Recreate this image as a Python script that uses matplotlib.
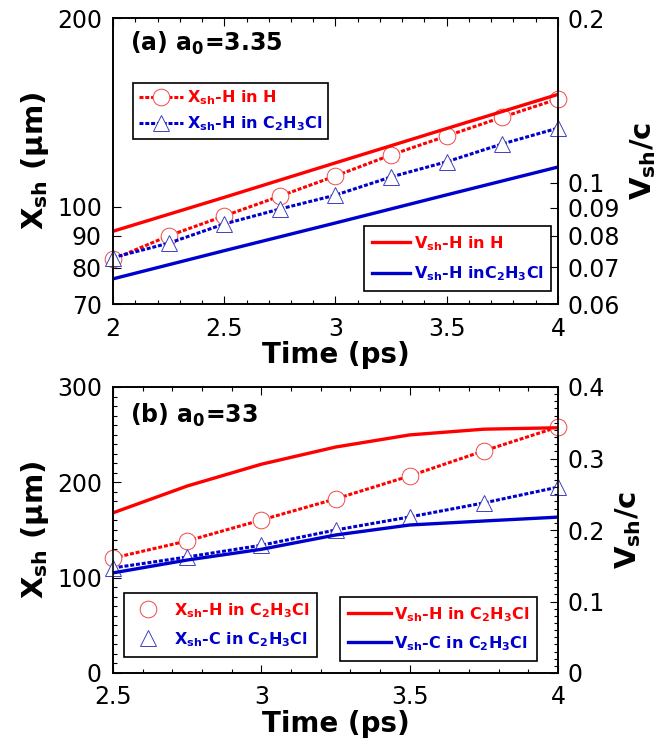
import matplotlib.pyplot as plt
from matplotlib.lines import Line2D
from matplotlib.ticker import FixedLocator, MultipleLocator, NullLocator, FixedFormatter

plt.rcParams['font.family'] = ['DejaVu Sans']
plt.rcParams['mathtext.fontset'] = 'custom'
plt.rcParams['mathtext.rm'] = 'DejaVu Sans:bold'
plt.rcParams['mathtext.bf'] = 'DejaVu Sans:bold'
plt.rcParams['mathtext.default'] = 'bf'

RED = '#ff0000'
BLUE = '#0000cc'

# panel (a), a0 = 3.35
t_a = [2.0, 2.25, 2.5, 2.75, 3.0, 3.25, 3.5, 3.75, 4.0]
xsh_h_in_h = [82.5, 89.9, 96.7, 104.0, 112.0, 121.0, 129.7, 139.0, 148.6]
xsh_h_in_c2h3cl_a = [83.0, 87.5, 93.9, 99.2, 104.4, 111.6, 118.0, 126.0, 133.5]
tv_a = [2.0, 2.5, 3.0, 3.5, 4.0]
vsh_h_in_h = [0.0815, 0.094, 0.1087, 0.1256, 0.145]
vsh_h_in_c2h3cl_a = [0.0667, 0.0751, 0.0844, 0.0950, 0.1068]

# panel (b), a0 = 33
t_b = [2.5, 2.75, 3.0, 3.25, 3.5, 3.75, 4.0]
xsh_h_in_c2h3cl_b = [120.6, 138.5, 160.5, 182.6, 206.7, 233.0, 258.0]
xsh_c_in_c2h3cl_b = [110.2, 121.7, 134.0, 150.0, 163.7, 178.4, 195.0]
vsh_h_in_c2h3cl_b = [0.224, 0.2615, 0.292, 0.316, 0.333, 0.341, 0.343]
vsh_c_in_c2h3cl_b = [0.140, 0.158, 0.173, 0.193, 0.207, 0.2126, 0.218]

TICK_FS = 17
XLABEL_FS = 20
YLABEL_FS = 21
LEG_FS = 11.5
MS = 12
DASH = (1.3, 0.6)
LW_DOT = 2.2
LW_SOLID = 2.4
MEC_RED = '#f04848'
MEC_BLUE = '#4040c0'

W, H = 663, 746


def style_axis(ax):
    ax.tick_params(which='both', direction='in', labelsize=TICK_FS, width=0.8)
    ax.tick_params(which='major', length=6)
    ax.tick_params(which='minor', length=3)
    for s in ax.spines.values():
        s.set_linewidth(1.2)


def make_legend(ax, handles, labels, x, y, **kw):
    leg = ax.legend(handles, labels, loc='upper left', bbox_to_anchor=(x / W, 1 - y / H),
                    bbox_transform=fig.transFigure, borderaxespad=0, fontsize=LEG_FS,
                    frameon=True, fancybox=False, edgecolor='black', framealpha=1, **kw)
    leg.get_frame().set_linewidth(1.2)
    for txt, c in zip(leg.get_texts(), [RED, BLUE]):
        txt.set_color(c)
        txt.set_fontweight('bold')
    return leg


fig = plt.figure(figsize=(6.63, 7.46), dpi=100)

# ---------- panel (a) ----------
ax1 = fig.add_axes([113 / W, 1 - 304 / H, 445 / W, 286 / H])
ax1r = ax1.twinx()
ax1r.set_zorder(ax1.get_zorder() + 1)
ax1r.patch.set_visible(False)

ax1r.plot(tv_a, vsh_h_in_h, '-', color=RED, lw=LW_SOLID, zorder=2)
ax1r.plot(tv_a, vsh_h_in_c2h3cl_a, '-', color=BLUE, lw=LW_SOLID, zorder=2)
ax1.plot(t_a, xsh_h_in_h, '--', color=RED, lw=LW_DOT, dashes=DASH, marker='o', ms=MS,
         mfc='white', mec=MEC_RED, mew=0.7, zorder=3, clip_on=False)
ax1.plot(t_a, xsh_h_in_c2h3cl_a, '--', color=BLUE, lw=LW_DOT, dashes=DASH, marker='^', ms=MS,
         mfc='white', mec=MEC_BLUE, mew=0.7, zorder=3, clip_on=False)

ax1.set_yscale('log')
ax1.set_ylim(70, 200)
ax1.yaxis.set_major_locator(FixedLocator([70, 80, 90, 100, 200]))
ax1.yaxis.set_major_formatter(FixedFormatter(['70', '80', '90', '100', '200']))
ax1.yaxis.set_minor_locator(NullLocator())
ax1r.set_yscale('log')
ax1r.set_ylim(0.06, 0.2)
ax1r.yaxis.set_major_locator(FixedLocator([0.06, 0.07, 0.08, 0.09, 0.1, 0.2]))
ax1r.yaxis.set_major_formatter(FixedFormatter(['0.06', '0.07', '0.08', '0.09', '0.1', '0.2']))
ax1r.yaxis.set_minor_locator(NullLocator())

ax1.set_xlim(2, 4)
ax1.xaxis.set_major_locator(FixedLocator([2, 2.5, 3, 3.5, 4]))
ax1.xaxis.set_major_formatter(FixedFormatter(['2', '2.5', '3', '3.5', '4']))
ax1.xaxis.set_minor_locator(MultipleLocator(0.1))
ax1.tick_params(axis='x', which='both', top=True)
style_axis(ax1)
style_axis(ax1r)
ax1.tick_params(axis='x', pad=9)
ax1.tick_params(axis='y', pad=8)
ax1r.tick_params(axis='y', pad=7)

ax1.set_xlabel('Time (ps)', fontsize=XLABEL_FS, fontweight='bold', labelpad=0)
ax1.set_ylabel(r'X$_{sh}$ (μm)', fontsize=YLABEL_FS, fontweight='bold', labelpad=4)
ax1r.set_ylabel(r'V$_{sh}$/c', fontsize=YLABEL_FS, fontweight='bold', rotation=90, labelpad=6)
ax1.text(0.038, 0.958, r'(a) a$_0$=3.35', transform=ax1.transAxes, fontsize=17,
         fontweight='bold', va='top', ha='left')

h1 = [Line2D([], [], ls='--', dashes=DASH, color=RED, lw=LW_DOT, marker='o', ms=MS,
             mfc='white', mec=MEC_RED, mew=0.7),
      Line2D([], [], ls='--', dashes=DASH, color=BLUE, lw=LW_DOT, marker='^', ms=MS,
             mfc='white', mec=MEC_BLUE, mew=0.7)]
leg1 = make_legend(ax1r, h1, [r'X$_{sh}$-H in H', r'X$_{sh}$-H in C$_2$H$_3$Cl'], 133, 83,
                   handlelength=2.8, handletextpad=0.2, borderpad=0.35, labelspacing=0.45)

h2 = [Line2D([], [], color=RED, lw=LW_SOLID), Line2D([], [], color=BLUE, lw=LW_SOLID)]
leg2 = make_legend(ax1r, h2, [r'V$_{sh}$-H in H', r'V$_{sh}$-H inC$_2$H$_3$Cl'], 364, 226,
                   handlelength=2.4, handletextpad=0.2, borderpad=0.5, labelspacing=0.75)
ax1r.add_artist(leg1)

# ---------- panel (b) ----------
ax2 = fig.add_axes([113 / W, 1 - 673 / H, 445 / W, 286 / H])
ax2r = ax2.twinx()

ax2.plot(t_b, xsh_h_in_c2h3cl_b, '--', color=RED, lw=LW_DOT, dashes=DASH, marker='o', ms=MS,
         mfc='white', mec=MEC_RED, mew=0.7, zorder=3, clip_on=False)
ax2.plot(t_b, xsh_c_in_c2h3cl_b, '--', color=BLUE, lw=LW_DOT, dashes=DASH, marker='^', ms=MS,
         mfc='white', mec=MEC_BLUE, mew=0.7, zorder=3, clip_on=False)
ax2r.plot(t_b, vsh_h_in_c2h3cl_b, '-', color=RED, lw=LW_SOLID)
ax2r.plot(t_b, vsh_c_in_c2h3cl_b, '-', color=BLUE, lw=LW_SOLID)

ax2.set_ylim(0, 300)
ax2.yaxis.set_major_locator(MultipleLocator(100))
ax2.yaxis.set_minor_locator(MultipleLocator(10))
ax2r.set_ylim(0, 0.4)
ax2r.yaxis.set_major_locator(FixedLocator([0, 0.1, 0.2, 0.3, 0.4]))
ax2r.yaxis.set_major_formatter(FixedFormatter(['0', '0.1', '0.2', '0.3', '0.4']))
ax2r.yaxis.set_minor_locator(MultipleLocator(0.01))

ax2.set_xlim(2.5, 4)
ax2.xaxis.set_major_locator(FixedLocator([2.5, 3, 3.5, 4]))
ax2.xaxis.set_major_formatter(FixedFormatter(['2.5', '3', '3.5', '4']))
ax2.xaxis.set_minor_locator(MultipleLocator(0.1))
ax2.tick_params(axis='x', which='both', top=True)
style_axis(ax2)
style_axis(ax2r)
ax2.tick_params(axis='x', pad=9)
ax2.tick_params(axis='y', pad=8)
ax2r.tick_params(axis='y', pad=7)

ax2.set_xlabel('Time (ps)', fontsize=XLABEL_FS, fontweight='bold', labelpad=0)
ax2.set_ylabel(r'X$_{sh}$ (μm)', fontsize=YLABEL_FS, fontweight='bold', labelpad=4)
ax2r.set_ylabel(r'V$_{sh}$/c', fontsize=YLABEL_FS, fontweight='bold', rotation=90, labelpad=6)
ax2.text(0.038, 0.948, r'(b) a$_0$=33', transform=ax2.transAxes, fontsize=17,
         fontweight='bold', va='top', ha='left')

h3 = [Line2D([], [], ls='none', marker='o', ms=MS, mfc='white', mec=MEC_RED, mew=0.7),
      Line2D([], [], ls='none', marker='^', ms=MS, mfc='white', mec=MEC_BLUE, mew=0.7)]
leg3 = make_legend(ax2r, h3, [r'X$_{sh}$-H in C$_2$H$_3$Cl', r'X$_{sh}$-C in C$_2$H$_3$Cl'],
                   124, 593, handlelength=2.0, handletextpad=0.6, borderpad=0.5,
                   labelspacing=0.65)

h4 = [Line2D([], [], color=RED, lw=LW_SOLID), Line2D([], [], color=BLUE, lw=LW_SOLID)]
leg4 = make_legend(ax2r, h4, [r'V$_{sh}$-H in C$_2$H$_3$Cl', r'V$_{sh}$-C in C$_2$H$_3$Cl'],
                   340, 597, handlelength=2.7, handletextpad=0.15, borderpad=0.5,
                   labelspacing=0.65)
ax2r.add_artist(leg3)

fig.savefig('out.png', dpi=100)
